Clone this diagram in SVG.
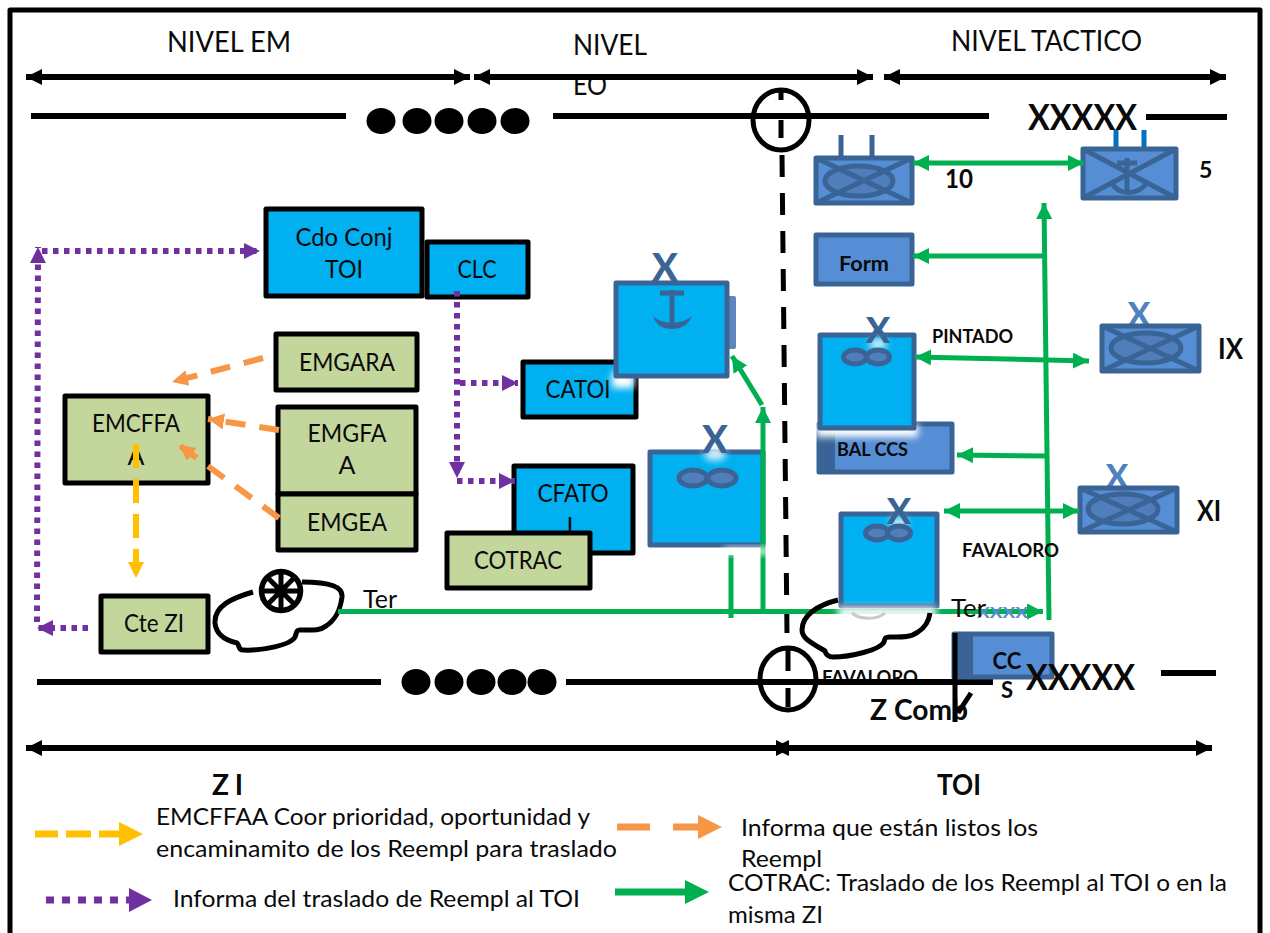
<svg xmlns="http://www.w3.org/2000/svg" width="1270" height="933" viewBox="0 0 1270 933">
<style>
text{font-family:Lato,"Open Sans","Liberation Sans",sans-serif;fill:#0a0a0a}
.m{text-anchor:middle}
.b{font-weight:700}
.bk{fill:none;stroke:#000;stroke-width:5}
.cy{fill:#00B0F0;stroke:#000;stroke-width:5;stroke-linejoin:round}
.gr{fill:#C3D69B;stroke:#000;stroke-width:5;stroke-linejoin:round}
.bb{fill:#00B0F0;stroke:#3A6496;stroke-width:5;stroke-linejoin:round}
.un{fill:#558ED5;stroke:#3A6496;stroke-width:5;stroke-linejoin:round}
.ln{fill:none;stroke:#3A6496;stroke-width:5}
.el{fill:#4F7EBB;stroke:#3A6496;stroke-width:5}
.dark{fill:#3A6496;stroke:none}
.xm{fill:#3A6496;font-weight:900;font-size:38px}
.xl{fill:#4F81BD;font-weight:900;font-size:33px}
.gl{stroke:#00B050;stroke-width:5;fill:none}
.pu{stroke:#7030A0;stroke-width:6;fill:none;stroke-dasharray:5.500 5.500}
.or{stroke:#F79646;stroke-width:6;fill:none;stroke-dasharray:20 14}
.ye{stroke:#FFC000;stroke-width:6;fill:none;stroke-dasharray:24 11}
.ar{stroke:#000;stroke-width:6;fill:none}
</style>
<defs>
<filter id="blur" x="-60%" y="-60%" width="220%" height="220%"><feGaussianBlur stdDeviation="3.5"/></filter>
<marker id="hk" markerUnits="userSpaceOnUse" markerWidth="17" markerHeight="18" refX="16" refY="8" orient="auto-start-reverse"><path d="M0 0L16 8L0 16Z" fill="#000"/></marker>
<marker id="hg" markerUnits="userSpaceOnUse" markerWidth="17" markerHeight="18" refX="16" refY="8" orient="auto-start-reverse"><path d="M0 0L16 8L0 16Z" fill="#00B050"/></marker>
<marker id="hp" markerUnits="userSpaceOnUse" markerWidth="17" markerHeight="18" refX="16" refY="8" orient="auto-start-reverse"><path d="M0 0L16 8L0 16Z" fill="#7030A0"/></marker>
<marker id="ho" markerUnits="userSpaceOnUse" markerWidth="17" markerHeight="18" refX="16" refY="8" orient="auto-start-reverse"><path d="M0 0L16 8L0 16Z" fill="#F79646"/></marker>
<marker id="hy" markerUnits="userSpaceOnUse" markerWidth="17" markerHeight="18" refX="16" refY="8" orient="auto-start-reverse"><path d="M0 0L16 8L0 16Z" fill="#FFC000"/></marker>
</defs>
<rect width="1270" height="933" fill="#fff"/>
<rect x="10" y="10" width="1250" height="960" fill="none" stroke="#000" stroke-width="5" stroke-linejoin="round"/>

<g id="headers">
<text x="167" y="52" font-size="28" textLength="124" lengthAdjust="spacingAndGlyphs">NIVEL EM</text>
<text x="573" y="55" font-size="28" textLength="74" lengthAdjust="spacingAndGlyphs">NIVEL</text>
<text x="573" y="95" font-size="28" textLength="34" lengthAdjust="spacingAndGlyphs">EO</text>
<text x="951" y="51" font-size="28" textLength="191" lengthAdjust="spacingAndGlyphs">NIVEL TACTICO</text>
<text class="b" x="822" y="684" font-size="19" textLength="96" lengthAdjust="spacingAndGlyphs">FAVALORO</text>
</g>

<g id="frontier">
<path class="ar" d="M31 116H346M553 116H989M1146 117H1227"/>
<g fill="#000"><ellipse cx="381" cy="121" rx="14.5" ry="13"/><ellipse cx="417" cy="121" rx="14.5" ry="13"/><ellipse cx="449" cy="121" rx="14.5" ry="13"/><ellipse cx="482" cy="121" rx="14.5" ry="13"/><ellipse cx="515" cy="121" rx="14.5" ry="13"/></g>
<ellipse class="bk" cx="781" cy="120" rx="28" ry="30"/>
<path class="bk" d="M781 90V100M781 120V138"/>
<path class="bk" stroke-dasharray="22 16" stroke-width="6" d="M782 155L787 634"/>
<path class="ar" d="M37 682H381M566 682H993M1161 673H1216"/>
<g fill="#000"><ellipse cx="416" cy="682" rx="14.500" ry="13"/><ellipse cx="449" cy="682" rx="14.500" ry="13"/><ellipse cx="481" cy="682" rx="14.500" ry="13"/><ellipse cx="512" cy="682" rx="14.500" ry="13"/><ellipse cx="542" cy="682" rx="14.500" ry="13"/></g>
<ellipse class="bk" cx="788" cy="679" rx="28" ry="31"/>
<path class="bk" d="M788 650V671M788 688V707"/>
</g>

<g id="node-cdo-conj"><rect class="cy" x="266" y="209" width="156" height="87"/><text class="m" x="344" y="246" font-size="25" textLength="97" lengthAdjust="spacingAndGlyphs">Cdo Conj</text><text class="m" x="344" y="278" font-size="25" textLength="38" lengthAdjust="spacingAndGlyphs">TOI</text></g>
<g id="node-clc"><rect class="cy" x="427" y="242" width="101" height="55"/><text class="m" x="477" y="278" font-size="25" textLength="39" lengthAdjust="spacingAndGlyphs">CLC</text></g>
<g id="node-catoi"><rect class="cy" x="523" y="362" width="113" height="55"/><text class="m" x="578" y="398" font-size="25" textLength="65" lengthAdjust="spacingAndGlyphs">CATOI</text></g>
<g id="node-cfato"><rect class="cy" x="514" y="466" width="119" height="87"/><text class="m" x="573" y="502" font-size="25" textLength="71" lengthAdjust="spacingAndGlyphs">CFATO</text><text class="m" x="573" y="535" font-size="25">L</text></g>
<g id="node-cotrac"><rect class="gr" x="447" y="533" width="143" height="55"/><text class="m" x="518" y="569" font-size="25" textLength="88" lengthAdjust="spacingAndGlyphs">COTRAC</text></g>
<g id="node-emcffaa"><rect class="gr" x="65" y="396" width="143" height="87"/><text class="m" x="136" y="432" font-size="25" textLength="88" lengthAdjust="spacingAndGlyphs">EMCFFA</text><text class="m" x="136" y="465" font-size="25">A</text></g>
<g id="node-emgara"><rect class="gr" x="276" y="334" width="141" height="56"/><text class="m" x="347" y="371" font-size="25" textLength="96" lengthAdjust="spacingAndGlyphs">EMGARA</text></g>
<g id="node-emgfa"><rect class="gr" x="278" y="407" width="138" height="87"/><text class="m" x="347" y="442" font-size="25" textLength="79" lengthAdjust="spacingAndGlyphs">EMGFA</text><text class="m" x="347" y="474" font-size="25">A</text></g>
<g id="node-emgea"><rect class="gr" x="278" y="494" width="138" height="56"/><text class="m" x="347" y="531" font-size="25" textLength="80" lengthAdjust="spacingAndGlyphs">EMGEA</text></g>
<g id="node-cte-zi"><rect class="gr" x="101" y="596" width="107" height="56"/><text class="m" x="154" y="632" font-size="25" textLength="60" lengthAdjust="spacingAndGlyphs">Cte ZI</text></g>

<g id="node-cloud-left">
<path class="bk" d="M253 592C232 598 214 606 215 623C216 634 224 640 237 643C240 646 238 650 243 650C262 651 291 645 295 637C297 632 296 630 300 630C311 630 320 631 326 626C335 620 340 612 342 597C343 587 331 582 302 582"/>
<circle cx="281" cy="591" r="19.500" fill="#fff" stroke="#000" stroke-width="5.500"/>
<path stroke="#000" stroke-width="5" d="M281 572V610M262 591H300M267.500 577.500L294.500 604.500M294.500 577.500L267.500 604.500"/>
</g>

<g id="node-anchor-brigade">
<rect x="726" y="296" width="10" height="53" rx="2" fill="#5F86BC"/>
<rect x="612" y="372" width="22" height="16" fill="#fff" filter="url(#blur)"/>
<rect class="bb" x="616" y="283" width="111" height="93"/>
<text class="xm m" x="665" y="281">X</text>
<path class="ln" d="M672 290V325M660 293H684"/>
<path class="dark" d="M653 316C662 325 682 325 692 316C688 326 680 329 672 329C664 329 656 326 653 316Z"/>
</g>
<g id="node-infantry-brigade">
<rect class="bb" x="650" y="452" width="113" height="93"/>
<ellipse cx="715" cy="454" rx="11" ry="7" fill="#cfeefb" filter="url(#blur)"/>
<text class="xm m" x="715" y="453">X</text>
<ellipse class="el" cx="693" cy="478" rx="14" ry="8"/><ellipse class="el" cx="722" cy="478" rx="14" ry="8"/>
</g>
<g id="node-unit-10">
<path class="ln" d="M841 135V157M872 135V157"/>
<rect class="un" x="816" y="158" width="96" height="45"/>
<ellipse class="el" cx="859" cy="181" rx="34" ry="15"/>
<path class="ln" d="M816 158L912 203M912 158L816 203"/>
</g>
<g id="node-unit-5">
<path stroke="#0070C0" stroke-width="5" d="M1116 130V149M1144 130V149"/>
<rect class="un" x="1083" y="149" width="93" height="49"/>
<path class="ln" d="M1127 158V192M1117 163H1137"/>
<path class="ln" d="M1112 182C1116 196 1140 196 1147 182"/>
<path class="ln" d="M1083 149L1176 198M1176 149L1083 198"/>
</g>
<g id="node-form"><rect class="un" x="816" y="235" width="96" height="49"/><text class="m b" x="864" y="271" font-size="21" textLength="50" lengthAdjust="spacingAndGlyphs">Form</text></g>
<g id="node-bal-ccs">
<rect class="un" x="819" y="424" width="133" height="48"/>
<rect class="dark" x="819" y="424" width="16" height="48"/>
<text class="b" x="837" y="456" font-size="19" textLength="71" lengthAdjust="spacingAndGlyphs">BAL CCS</text>
</g>
<g id="node-pintado">
<rect x="816" y="424" width="102" height="13" fill="#fff" filter="url(#blur)"/>
<rect class="bb" x="820" y="335" width="94" height="93"/>
<ellipse cx="878" cy="344" rx="9" ry="6" fill="#cfeefb" filter="url(#blur)"/>
<text class="xm m" x="878" y="343" style="font-size:36px">X</text>
<ellipse class="el" cx="855" cy="357" rx="11.500" ry="7"/><ellipse class="el" cx="878" cy="357" rx="11.500" ry="7"/>
<text class="b" x="932" y="343" font-size="19" textLength="81" lengthAdjust="spacingAndGlyphs">PINTADO</text>
</g>
<g id="node-unit-ix">
<text class="xl m" x="1139" y="326">X</text>
<rect class="un" x="1102" y="326" width="97" height="45"/>
<ellipse class="el" cx="1146" cy="348" rx="35" ry="15"/>
<path class="ln" d="M1102 326L1199 371M1199 326L1102 371"/>
<text class="b" x="1218" y="359" font-size="28" textLength="25" lengthAdjust="spacingAndGlyphs">IX</text>
</g>
<g id="node-favaloro">
<rect class="bb" x="841" y="514" width="96" height="92"/>
<ellipse cx="899" cy="523" rx="9" ry="6" fill="#cfeefb" filter="url(#blur)"/>
<text class="xm m" x="899" y="524" style="font-size:36px">X</text>
<ellipse class="el" cx="877" cy="533" rx="11.500" ry="7"/><ellipse class="el" cx="899" cy="533" rx="11.500" ry="7"/>
</g>
<g id="node-unit-xi">
<text class="xl m" x="1117" y="488">X</text>
<rect class="un" x="1080" y="488" width="97" height="44"/>
<ellipse class="el" cx="1123" cy="509" rx="35" ry="15"/>
<path class="ln" d="M1080 488L1177 532M1177 488L1080 532"/>
<text class="b" x="1197" y="521" font-size="28" textLength="24" lengthAdjust="spacingAndGlyphs">XI</text>
</g>
<g id="node-ccs">
<rect class="un" x="954" y="634" width="98" height="43"/>
<rect class="dark" x="954" y="634" width="19" height="43"/>
<text class="m b" x="1007" y="669" font-size="22">CC</text>
<text class="m b" x="1007" y="698" font-size="22">S</text>
</g>

<g id="connectors">
<path class="ar" marker-start="url(#hk)" marker-end="url(#hk)" d="M26 77H470"/>
<path class="ar" marker-start="url(#hk)" marker-end="url(#hk)" d="M474 77H873"/>
<path class="ar" marker-start="url(#hk)" marker-end="url(#hk)" d="M884 77H1226"/>
<path class="ar" marker-start="url(#hk)" marker-end="url(#hk)" d="M26 748H792"/>
<path class="ar" marker-start="url(#hk)" marker-end="url(#hk)" d="M773 748H1212"/>
<path class="gl" marker-end="url(#hg)" d="M338 611.500H1043"/>
<path class="gl" d="M731 555V618"/>
<path class="gl" marker-end="url(#hg)" d="M763 612V407"/>
<path class="gl" marker-end="url(#hg)" d="M762 405L732 356"/>
<path class="gl" marker-end="url(#hg)" d="M1049 620L1044 203"/>
<path class="gl" marker-end="url(#hg)" d="M1044 256H913"/>
<path class="gl" marker-end="url(#hg)" d="M1047 456L957 455"/>
<path class="gl" marker-start="url(#hg)" marker-end="url(#hg)" d="M913 163H1084"/>
<path class="gl" marker-start="url(#hg)" marker-end="url(#hg)" d="M915 357L1089 361"/>
<path class="gl" marker-start="url(#hg)" marker-end="url(#hg)" d="M944 511H1079"/>
<path class="pu" marker-end="url(#hp)" d="M37 622L38 247"/>
<path class="pu" marker-end="url(#hp)" d="M42 251H260"/>
<path class="pu" marker-end="url(#hp)" d="M88 628H37"/>
<path class="pu" marker-end="url(#hp)" d="M457 291V478"/>
<path class="pu" marker-end="url(#hp)" d="M460 383H518"/>
<path class="pu" marker-end="url(#hp)" d="M457 481H515"/>
<path class="or" marker-end="url(#ho)" d="M263 358L172 382"/>
<path class="or" marker-end="url(#ho)" d="M279 430L208 419"/>
<path class="or" marker-end="url(#ho)" d="M279 518L179 445"/>
<path class="ye" marker-end="url(#hy)" d="M136 444V578"/>
</g>

<g id="node-cloud-right">
<rect x="724" y="548" width="46" height="6" fill="#fff" filter="url(#blur)"/>
<rect x="838" y="607" width="98" height="11" fill="#fff" filter="url(#blur)"/>
<path d="M852 613C860 620 878 620 885 613" fill="none" stroke="#c9c9c9" stroke-width="3"/>
<path class="bk" d="M838 600C818 605 802 615 802 630C802 638 810 642 825 651C826 655 828 657 833 657C850 657 880 650 884 642C885 638 885 637 890 637C900 637 910 638 918 632C926 627 929 620 930 613"/>
</g>

<g id="labels">
<text class="b" x="1028" y="130" font-size="36" font-weight="900" textLength="109" lengthAdjust="spacingAndGlyphs">XXXXX</text>
<text class="b" x="1026" y="690" font-size="36" font-weight="900" textLength="109" lengthAdjust="spacingAndGlyphs">XXXXX</text>
<text class="b" x="945" y="188" font-size="27" textLength="28" lengthAdjust="spacingAndGlyphs">10</text>
<text class="b" x="1199" y="178" font-size="23">5</text>
<text class="b" x="962" y="557" font-size="19" textLength="97" lengthAdjust="spacingAndGlyphs">FAVALORO</text>
<text x="363" y="608" font-size="25" textLength="34" lengthAdjust="spacingAndGlyphs">Ter</text>
<text x="977" y="618" font-size="16" font-weight="700" style="fill:#5B8BD0" textLength="51" lengthAdjust="spacingAndGlyphs">XXXX</text>
<text x="951" y="617" font-size="25" textLength="35" lengthAdjust="spacingAndGlyphs">Ter</text>
<text class="b" x="870" y="720" font-size="29" textLength="98" lengthAdjust="spacingAndGlyphs">Z Comb</text>
<path class="bk" d="M955 633V722M971 693L958 713"/>
<text class="b" x="212" y="795" font-size="28" textLength="31">Z I</text>
<text class="b" x="937" y="795" font-size="28" textLength="44" lengthAdjust="spacingAndGlyphs">TOI</text>
</g>

<g id="legend">
<path stroke="#FFC000" stroke-width="7" d="M35 834H58M66 834H91M99 834H120"/><path fill="#FFC000" d="M119 822L143 834L119 846Z"/>
<path stroke="#7030A0" stroke-width="7" stroke-dasharray="8 8" d="M46 900H130"/><path fill="#7030A0" d="M129 888L152 900L129 912Z"/>
<path stroke="#F79646" stroke-width="7" d="M617 827H650M673 827H699"/><path fill="#F79646" d="M698 815L722 827L698 839Z"/>
<path stroke="#00B050" stroke-width="7" d="M615 892H686"/><path fill="#00B050" d="M685 880L709 892L685 904Z"/>
<text x="156" y="825" font-size="24" textLength="434" lengthAdjust="spacingAndGlyphs">EMCFFAA Coor prioridad, oportunidad y</text>
<text x="156" y="857" font-size="24" textLength="461" lengthAdjust="spacingAndGlyphs">encaminamito de los Reempl para traslado</text>
<text x="173" y="907" font-size="24" textLength="407" lengthAdjust="spacingAndGlyphs">Informa del traslado de Reempl al TOI</text>
<text x="741" y="836" font-size="24" textLength="297" lengthAdjust="spacingAndGlyphs">Informa que están listos los</text>
<text x="741" y="867" font-size="24" textLength="81" lengthAdjust="spacingAndGlyphs">Reempl</text>
<text x="728" y="891" font-size="24" textLength="499" lengthAdjust="spacingAndGlyphs">COTRAC: Traslado de los Reempl al TOI o en la</text>
<text x="728" y="923" font-size="24" textLength="95" lengthAdjust="spacingAndGlyphs">misma ZI</text>
</g>
</svg>
